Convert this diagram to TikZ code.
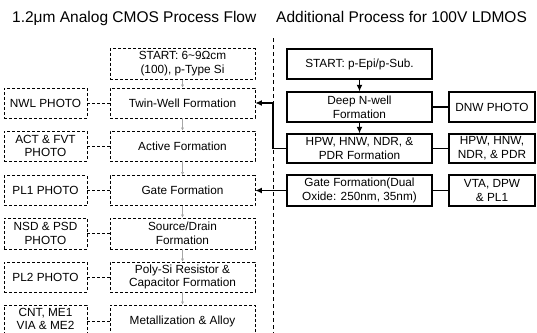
\documentclass[tikz,border=0pt]{standalone}
\usepackage{fontspec}
\setmainfont{Liberation Sans}
\usetikzlibrary{arrows.meta}

\begin{document}
\begin{tikzpicture}[x=1pt,y=-1pt,
  every node/.style={font=\fontsize{11.8}{13.8}\selectfont, align=center, inner sep=0pt},
  titletext/.style={font=\fontsize{15.5}{18}\selectfont, anchor=base west},
  flowbox/.style={draw, densely dashed, line width=0.8pt, minimum width=145pt, minimum height=30pt},
  photobox/.style={draw, densely dashed, line width=0.8pt, minimum width=83pt, minimum height=30pt},
  addbox/.style={draw, line width=1.3pt, minimum width=145pt, minimum height=30pt},
  addphoto/.style={draw, line width=1.3pt, minimum width=86pt, minimum height=30pt},
  photolink/.style={densely dashed, line width=0.8pt},
  smallstep/.style={gray!70, line width=0.4pt, -{Latex[length=3pt,width=3pt]}},
  heavylink/.style={line width=1.3pt},
  heavyarrow/.style={line width=1.3pt, -{Latex[length=6.5pt,width=6pt]}},
  divider/.style={line width=0.7pt, dash pattern=on 4pt off 3pt}
]
\useasboundingbox (0,0) rectangle (537,332);
\clip (0,0) rectangle (537,332);

% titles
\node[titletext] (t1) at (12,22) {1.2μm Analog CMOS Process Flow};
\node[titletext] (t2) at (276,22) {Additional Process for 100V LDMOS};

% divider between the two flows
\coordinate (vtop) at (273,38);
\coordinate (vbot) at (273,340);
\draw[divider] (vtop) -- (vbot);

% ---- baseline CMOS flow ----
\node[flowbox, minimum height=31pt] (s1) at (182.5,64) {START: 6\textasciitilde 9Ωcm\\(100), p-Type Si};
\node[flowbox] (tw) at (182.5,103) {Twin-Well Formation};
\node[flowbox] (ac) at (182.5,146) {Active Formation};
\node[flowbox] (ga) at (182.5,190.5) {Gate Formation};
\node[flowbox, minimum height=31pt] (sd) at (182.5,233.5) {Source/Drain\\Formation};
\node[flowbox] (po) at (182.5,277) {Poly-Si Resistor \&\\Capacitor Formation};
\node[flowbox, minimum height=32pt] (me) at (182.5,321) {Metallization \& Alloy};

\node[photobox] (p1) at (45.5,103) {NWL PHOTO};
\node[photobox] (p2) at (45.5,146) {ACT \& FVT\\PHOTO};
\node[photobox] (p3) at (45.5,190.5) {PL1 PHOTO};
\node[photobox, minimum height=31pt] (p4) at (45.5,233.5) {NSD \& PSD\\PHOTO};
\node[photobox] (p5) at (45.5,277) {PL2 PHOTO};
\node[photobox, minimum height=32pt] (p6) at (45.5,321) {};
\node[font=\fontsize{11.8}{13}\selectfont] (p6t) at (45.5,318.5) {CNT, ME1\\VIA \& ME2};

\foreach \a/\b in {s1/tw, tw/ac, ac/ga, ga/sd, sd/po, po/me}
  \draw[smallstep] (\a) -- (\b);
\foreach \a/\b in {p1/tw, p2/ac, p3/ga, p4/sd, p5/po, p6/me}
  \draw[photolink] (\a) -- (\b);

% ---- additional LDMOS steps ----
\node[addbox] (s2) at (359.5,64) {START: p-Epi/p-Sub.};
\node[addbox] (dn) at (359.5,107) {Deep N-well\\Formation};
\node[addbox, minimum height=29pt] (hp) at (359.5,148.5) {HPW, HNW, NDR, \&\\PDR Formation};
\node[addbox, minimum height=31pt] (g2) at (359.5,190.5) {Gate Formation(Dual\\Oxide: 250nm, 35nm)};

\node[addphoto] (q1) at (492,107) {DNW PHOTO};
\node[addphoto, minimum height=29pt] (q2) at (492,148.5) {HPW, HNW,\\NDR, \& PDR};
\node[addphoto, minimum height=31pt] (q3) at (492,190.5) {VTA, DPW\\\& PL1};

\draw[heavyarrow] (s2) -- (dn);
\draw[heavyarrow] (dn) -- (hp);
\draw[heavylink] (dn) -- (q1);
\draw[heavylink] (hp) -- (q2);
\draw[heavylink] (g2) -- (q3);

% insertion points into the baseline flow
\coordinate (jn) at (273,103);
\draw[heavyarrow] (hp.west) -| (jn) -- (tw.east);
\draw[heavyarrow] (g2.west) -- (ga.east);
\end{tikzpicture}
\end{document}
